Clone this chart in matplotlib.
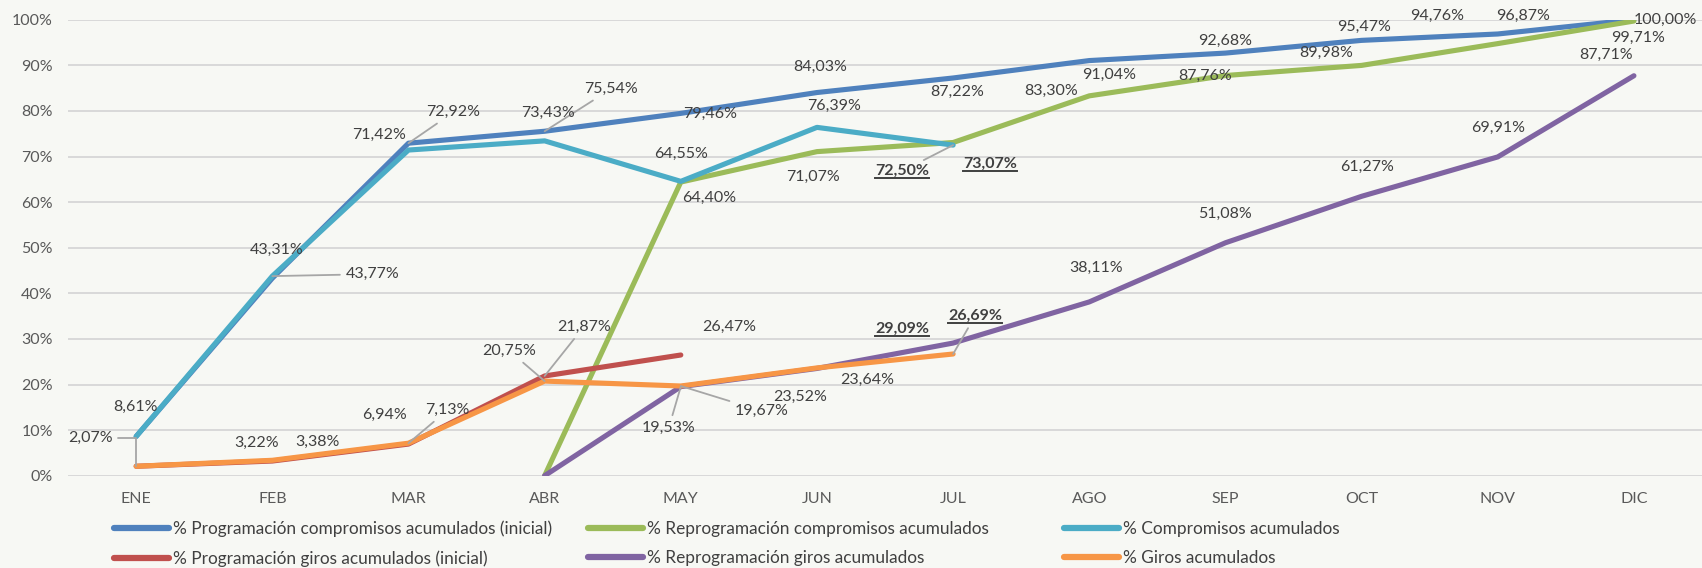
import matplotlib.pyplot as plt
import numpy as np
from matplotlib.lines import Line2D
from matplotlib.text import Text

nan = np.nan
meses = ['ENE', 'FEB', 'MAR', 'ABR', 'MAY', 'JUN', 'JUL', 'AGO', 'SEP', 'OCT', 'NOV', 'DIC']

# % acumulados por mes
prog_comp = [8.61, 43.31, 72.92, 75.54, 79.46, 84.03, 87.22, 91.04, 92.68, 95.47, 96.87, 100.00]
reprog_comp = [nan, nan, nan, 0.0, 64.40, 71.07, 73.07, 83.30, 87.76, 89.98, 94.76, 99.71]
comp = [8.61, 43.77, 71.42, 73.43, 64.55, 76.39, 72.50, nan, nan, nan, nan, nan]
prog_giros = [2.07, 3.22, 6.94, 21.87, 26.47, nan, nan, nan, nan, nan, nan, nan]
reprog_giros = [nan, nan, nan, 0.0, 19.53, 23.52, 29.09, 38.11, 51.08, 61.27, 69.91, 87.71]
giros = [2.07, 3.38, 7.13, 20.75, 19.67, 23.64, 26.69, nan, nan, nan, nan, nan]

nombres = ['% Programación compromisos acumulados (inicial)',
           '% Reprogramación compromisos acumulados',
           '% Compromisos acumulados',
           '% Programación giros acumulados (inicial)',
           '% Reprogramación giros acumulados',
           '% Giros acumulados']
colores = ['#4F81BD', '#9BBB59', '#4BACC6', '#C0504D', '#8064A2', '#F79646']

# label offsets in pixels (dx, dy, leader line, bold); None = no label
etiq = {
    0: [None, (4, 28, 0, 0), (45, 31, 1, 0), (66, 42, 1, 0), (29, -1, 0, 0), (3, 26, 0, 0),
        (4, -14, 0, 0), (20, -14, 0, 0), (0, 12, 0, 0), (2, 13, 0, 0), (25, 18, 0, 0), (31, 0, 0, 0)],
    1: [None, None, None, None, (28, -16, 0, 0), (-4, -25, 0, 0), (37, -21, 0, 1), (-38, 5, 0, 0),
        (-20, 0, 0, 0), (-35, 13, 0, 0), (-61, 28, 0, 0), (4, -17, 0, 0)],
    2: [(-1, 30, 0, 0), (100, 2, 1, 0), (-29, 15, 0, 0), (3, 28, 0, 0), (0, 27, 0, 0), (17, 21, 0, 0),
        (-51, -26, 1, 1)] + [None] * 5,
    3: [(-46, 28, 2, 0), (-16, 18, 0, 0), (-24, 29, 0, 0), (39, 49, 1, 0), (48, 28, 0, 0)] + [None] * 7,
    4: [None, None, None, None, (-12, -41, 1, 0), (-17, -28, 0, 0), (-51, 14, 0, 1), (7, 34, 0, 0),
        (0, 29, 0, 0), (5, 29, 0, 0), (0, 29, 0, 0), (-28, 21, 0, 0)],
    5: [None, (45, 18, 0, 0), (39, 33, 1, 0), (-35, 30, 1, 0), (81, -25, 1, 0), (50, -12, 0, 0),
        (22, 38, 1, 1)] + [None] * 5,
}

plt.rcParams['font.family'] = ['Lato', 'DejaVu Sans']
fondo = '#F7F8F4'
fs = 11.5

fig = plt.figure(figsize=(17.02, 5.68), dpi=100, facecolor=fondo)
ax = fig.add_axes([0.04, 0.1625, 0.96, 0.8028])
ax.set_facecolor(fondo)

x = np.arange(len(meses))
series = [prog_comp, reprog_comp, comp, prog_giros, reprog_giros, giros]
handles = []
for i, (s, c) in enumerate(zip(series, colores)):
    ln, = ax.plot(x, s, color=c, lw=3.7, solid_capstyle='round', solid_joinstyle='round',
                  label=nombres[i], zorder=3)
    handles.append(ln)

negritas = []
for i, s in enumerate(series):
    for j, v in enumerate(s):
        e = etiq[i][j]
        if e is None or np.isnan(v):
            continue
        dx, dy, lider, bold = e
        txt = f'{v:.2f}'.replace('.', ',') + '%'
        kw = {}
        if lider:
            cs = 'angle,angleA=0,angleB=90,rad=0' if lider == 2 else 'arc3'
            kw['arrowprops'] = dict(arrowstyle='-', color='#A6A6A6', lw=1.3, shrinkA=2, shrinkB=0,
                                    connectionstyle=cs)
        t = ax.annotate(txt, (x[j], v), xytext=(dx, dy), textcoords='offset pixels',
                        ha='center', va='center', fontsize=fs, color='#404040',
                        fontweight='bold' if bold else 'normal', zorder=5, **kw)
        if bold:
            negritas.append(t)

ax.set_xlim(-0.5, 11.5)
ax.set_ylim(0, 100)
ax.set_yticks(np.arange(0, 101, 10))
ax.set_yticklabels([f'{v}%' for v in range(0, 101, 10)])
ax.set_xticks(x)
ax.set_xticklabels(meses)
ax.yaxis.grid(True, color='#D9D9D9', lw=1.4)
ax.set_axisbelow(True)
ax.tick_params(length=0, labelsize=fs, colors='#595959')
ax.tick_params(axis='x', pad=12)
ax.tick_params(axis='y', pad=11)
for sp in ax.spines.values():
    sp.set_visible(False)

# three legend columns, like the original layout
W, H = fig.get_size_inches() * fig.dpi
for col, x0 in zip([(0, 3), (1, 4), (2, 5)], [114, 588, 1064]):
    leg = fig.legend([handles[k] for k in col], [nombres[k] for k in col], ncol=1,
                     loc='center left', bbox_to_anchor=(x0 / W, 1 - 543.5 / H), frameon=False,
                     fontsize=12.4, handlelength=3.2, handletextpad=0.2, labelspacing=0.78,
                     borderpad=0, borderaxespad=0, labelcolor='#404040')
    for h in leg.legend_handles:
        h.set_linewidth(4.5)
        h.set_solid_capstyle('round')

fig.canvas.draw()
for t in negritas:
    bb = Text.get_window_extent(t)
    fig.add_artist(Line2D([bb.x0 / W, bb.x1 / W], [bb.y0 / H] * 2,
                          color='#404040', lw=1.4, transform=fig.transFigure))

fig.savefig('out.png', dpi=100, facecolor=fondo)
